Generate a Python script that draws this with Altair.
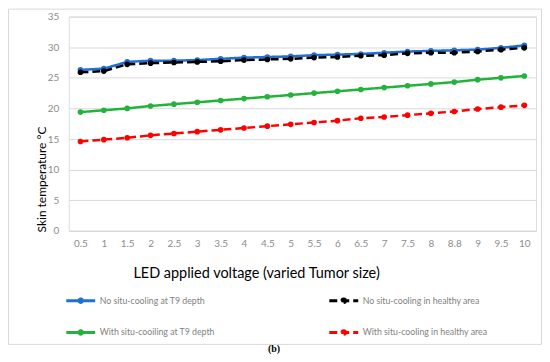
import altair as alt
import pandas as pd

voltage = ["0.5", "1", "1.5", "2", "2.5", "3", "3.5", "4", "4.5", "5",
           "5.5", "6", "6.5", "7", "7.5", "8", "8.8", "9", "9.5", "10"]

no_cool_t9 = [26.3, 26.5, 27.6, 27.8, 27.8, 27.9, 28.1, 28.3, 28.4, 28.5,
              28.7, 28.8, 28.9, 29.1, 29.3, 29.4, 29.5, 29.6, 29.9, 30.3]
no_cool_healthy = [25.9, 26.1, 27.2, 27.4, 27.5, 27.6, 27.7, 27.9, 28.0, 28.1,
                   28.3, 28.4, 28.6, 28.7, 29.0, 29.1, 29.1, 29.3, 29.6, 29.9]
cool_t9 = [19.4, 19.7, 20.0, 20.4, 20.7, 21.0, 21.3, 21.6, 21.9, 22.2,
           22.5, 22.8, 23.1, 23.4, 23.7, 24.0, 24.3, 24.7, 25.0, 25.3]
cool_healthy = [14.6, 14.9, 15.2, 15.6, 15.9, 16.2, 16.5, 16.8, 17.1, 17.4,
                17.7, 18.0, 18.4, 18.6, 18.9, 19.2, 19.5, 19.9, 20.2, 20.5]

series_names = ["No situ-cooling at T9 depth", "No situ-cooling in healthy area",
                "With situ-cooiling at T9 depth", "With situ-cooling in healthy area"]
series_values = [no_cool_t9, no_cool_healthy, cool_t9, cool_healthy]
colors = ["#1F6FD6", "#000000", "#22B33A", "#FF0000"]
dashes = [[1, 0], [8, 4], [1, 0], [8, 4]]

rows = []
for name, vals in zip(series_names, series_values):
    for v, t in zip(voltage, vals):
        rows.append({"voltage": v, "temp": t, "series": name})
df = pd.DataFrame(rows)

FONT = "Lato"
GRID = "#D9D9D9"

x = alt.X("voltage:N", sort=voltage,
          scale=alt.Scale(type="point", padding=0.5),
          axis=alt.Axis(title="LED applied voltage (varied Tumor size)", labelAngle=0,
                        labelColor="#8C8C8C", labelFont=FONT, labelFontSize=10,
                        labelPadding=8, ticks=False, domainColor=GRID, grid=False,
                        titleFont=FONT, titleFontSize=14.5, titleFontWeight="normal",
                        titleColor="#000000", titleX=188, titleY=43,
                        titleAlign="center", titleBaseline="middle"))
y = alt.Y("temp:Q", scale=alt.Scale(domain=[0, 35]),
          axis=alt.Axis(title="Skin temperature °C", values=[0, 5, 10, 15, 20, 25, 30, 35],
                        labelColor="#8C8C8C", labelFont=FONT, labelFontSize=10,
                        labelPadding=10, ticks=False, domain=False, gridColor=GRID,
                        titleFont=FONT, titleFontSize=12, titleFontWeight="normal",
                        titleColor="#000000", titleAngle=270, titleX=-27, titleY=163,
                        titleAlign="center", titleBaseline="middle"))

# legend symbol: small dot (drawn thrice so dashes do not notch it) plus a line
dot = "M-0.12,0A0.12,0.12 0 1,1 0.12,0A0.12,0.12 0 1,1 -0.12,0"
symbol_path = dot + dot + dot + "M-1,0H1"

line_legend = alt.Legend(orient="none", legendX=-4, legendY=269, columns=2,
                         direction="horizontal", title=None, labelFont=FONT,
                         labelFontSize=8.8, labelOffset=3, labelColor="#7F7F7F",
                         symbolType=symbol_path, symbolStrokeWidth=3, symbolSize=841,
                         columnPadding=108, rowPadding=8, padding=0)

lines = alt.Chart(df).mark_line(strokeWidth=2.5).encode(
    x=x, y=y,
    stroke=alt.Stroke("series:N", scale=alt.Scale(domain=series_names, range=colors),
                      legend=line_legend),
    strokeDash=alt.StrokeDash("series:N", scale=alt.Scale(domain=series_names, range=dashes),
                              legend=line_legend),
)
points = alt.Chart(df).mark_circle(size=32, opacity=1).encode(
    x=x, y=y,
    fill=alt.Fill("series:N", scale=alt.Scale(domain=series_names, range=colors),
                  legend=None),
)

frame = alt.Chart(alt.Data(values=[{}])).mark_rect(
    fill="transparent", stroke=GRID, strokeWidth=1
).encode(x=alt.value(-60.5), x2=alt.value(474.5), y=alt.value(-7.5), y2=alt.value(329))

label_b = alt.Chart(alt.Data(values=[{}])).mark_text(
    text="(b)", font="Liberation Serif", fontWeight="bold", fontSize=10, color="#000000"
).encode(x=alt.value(206), y=alt.value(334))

chart = alt.layer(frame, lines, points, label_b).properties(
    width=469, height=215,
    autosize=alt.AutoSizeParams(type="none"),
    padding={"left": 61, "top": 8, "right": 6, "bottom": 123},
).configure_view(stroke=None).configure(background="#FFFFFF")

chart.save("out.html", embed_options={"renderer": "svg", "actions": False})
